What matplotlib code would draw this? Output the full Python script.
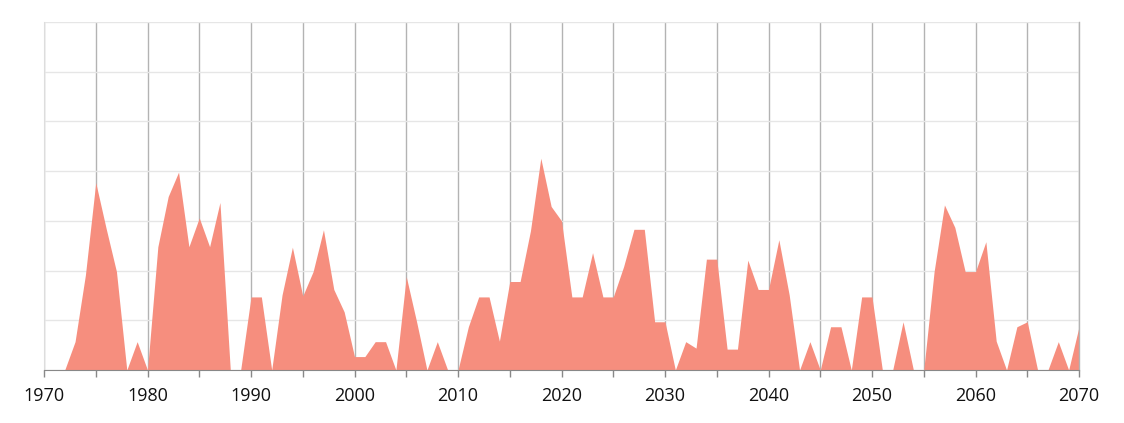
import matplotlib
matplotlib.use("Agg")
import matplotlib.pyplot as plt
import numpy as np

years = list(range(1970, 2071))
values = [
    0, 0, 0, 0.57, 1.91, 3.77, 2.85, 1.98, 0, 0.57,          # 1970-1979
    0, 2.48, 3.49, 3.98, 2.48, 3.06, 2.48, 3.37, 0, 0,       # 1980-1989
    1.47, 1.47, 0, 1.51, 2.47, 1.49, 1.98, 2.82, 1.62, 1.17, # 1990-1999
    0.27, 0.27, 0.57, 0.57, 0, 1.88, 0.97, 0, 0.57, 0,       # 2000-2009
    0, 0.87, 1.47, 1.47, 0.58, 1.78, 1.78, 2.80, 4.26, 3.29, # 2010-2019
    3.0, 1.47, 1.47, 2.36, 1.47, 1.47, 2.08, 2.83, 2.83, 0.97, # 2020-2029
    0.97, 0, 0.57, 0.44, 2.23, 2.23, 0.42, 0.42, 2.21, 1.62, # 2030-2039
    1.62, 2.62, 1.51, 0, 0.57, 0, 0.87, 0.87, 0, 1.47,       # 2040-2049
    1.47, 0, 0, 0.97, 0, 0, 1.98, 3.32, 2.87, 1.98,          # 2050-2059
    1.98, 2.58, 0.58, 0, 0.87, 0.97, 0, 0, 0.57, 0,          # 2060-2069
    0.87,                                                    # 2070
]
x_labels = [str(y) for y in range(1970, 2071, 10)]

fig = plt.figure(figsize=(11.24, 4.23), dpi=100)
ax = fig.add_axes([44/1124, 1-370/423, (1079-44)/1124, (370-22)/423])

ax.fill_between(years, values, 0, color="#F68E7E", linewidth=0, zorder=3)

ax.set_xlim(1970, 2070)
ax.set_ylim(0, 7)

ax.set_yticks(range(0, 8))
ax.set_yticklabels([])
ax.tick_params(axis="y", length=0)
ax.yaxis.grid(True, color="#e6e6e6", linewidth=1, zorder=0)

ax.set_xticks(range(1970, 2071, 10))
ax.set_xticklabels(x_labels, fontsize=13, family=["Open Sans", "DejaVu Sans"], color="#111111")
ax.set_xticks(range(1975, 2071, 10), minor=True)
ax.tick_params(axis="x", which="both", length=5, color="#888888", width=1, pad=7.5)
ax.xaxis.grid(True, which="both", color="#b3b3b3", linewidth=1, zorder=1)
ax.axvline(2070, color="#b3b3b3", linewidth=1, clip_on=False, zorder=4)

for s in ["top", "right"]:
    ax.spines[s].set_visible(False)
ax.spines["left"].set_color("#dddddd")
ax.spines["bottom"].set_color("#888888")
ax.spines["bottom"].set_zorder(5)

fig.savefig("out.png", dpi=100)
